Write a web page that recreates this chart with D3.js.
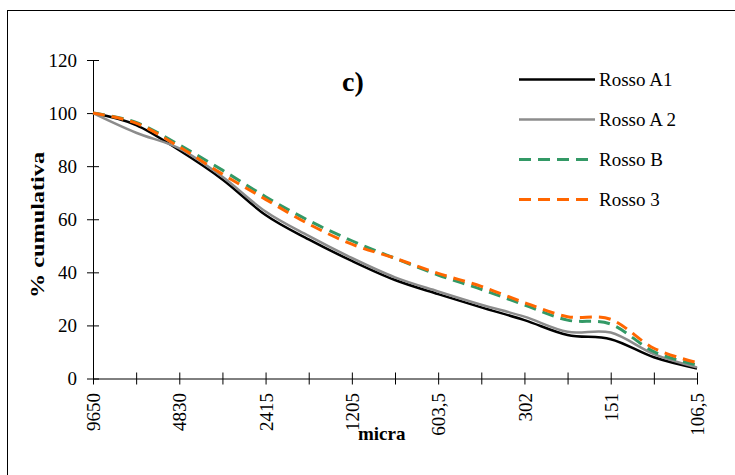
<!DOCTYPE html>
<html>
<head>
<meta charset="utf-8">
<script src="https://cdn.jsdelivr.net/npm/d3@7/dist/d3.min.js"></script>
<style>
  body { margin: 0; background: #fff; }
  svg { display: block; font-family: "Liberation Serif", "Times New Roman", serif; }
</style>
</head>
<body>
<svg id="chart" width="735" height="475"></svg>
<script>
// x categories (only every other one is labelled in the original)
var categories = ["9650", "", "4830", "", "2415", "", "1205", "", "603,5", "", "302", "", "151", "", "106,5"];

var rossoA1 = [100, 95.5, 86, 75, 61.6, 52.4, 44.3, 37.1, 31.8, 26.8, 22, 16.4, 14.8, 8, 3.8];
var rossoA2 = [100, 92.6, 86.7, 76, 62.9, 53.7, 45.4, 38.1, 32.8, 27.8, 23.3, 17.6, 17.3, 9.2, 4.2];
var rossoB  = [100, 96.5, 88, 78.5, 68.5, 59.5, 51.9, 45.3, 39, 33.6, 27.7, 22, 20.5, 10.1, 5.1];
var rosso3  = [100, 96.2, 87.3, 77, 67.5, 58.2, 50.6, 45.3, 39.6, 34.7, 28.6, 23.3, 22.3, 11.4, 6];

var yTicks = [0, 20, 40, 60, 80, 100, 120];

var series = [
  { name: "Rosso A1",  values: rossoA1, color: "#000000", width: 2.5, dash: null },
  { name: "Rosso A 2", values: rossoA2, color: "#8c8c8c", width: 2.5, dash: null },
  { name: "Rosso B",   values: rossoB,  color: "#339966", width: 3, dash: "12,7" },
  { name: "Rosso 3",   values: rosso3,  color: "#ff6600", width: 3, dash: "12,7" }
];

var svg = d3.select("#chart");

// outer frame
svg.append("rect")
  .attr("x", 7.5).attr("y", 10.5)
  .attr("width", 760).attr("height", 500)
  .attr("fill", "none").attr("stroke", "#000").attr("stroke-width", 1);

var xScale = d3.scalePoint().domain(d3.range(categories.length)).range([93, 697]);
var yScale = d3.scaleLinear().domain([0, 120]).range([378.5, 60]);

// y axis
var yAxis = d3.axisLeft(yScale).tickValues(yTicks).tickSizeInner(6).tickSizeOuter(0).tickPadding(10);
var gy = svg.append("g").attr("transform", "translate(93,0)").call(yAxis);
gy.selectAll(".tick line").attr("x2", 6).attr("x1", -6);
gy.selectAll("text").style("font-size", "19px").style("font-family", "Liberation Serif");

// x axis
var xAxis = d3.axisBottom(xScale).tickFormat(function (i) { return categories[i]; })
  .tickSizeInner(6).tickSizeOuter(0);
var gx = svg.append("g").attr("transform", "translate(0,378.5)").call(xAxis);
gx.selectAll(".tick line").attr("y1", -6).attr("y2", 6);
gx.selectAll("text")
  .style("font-size", "19px").style("font-family", "Liberation Serif")
  .attr("text-anchor", "end")
  .attr("transform", "rotate(-90)")
  .attr("x", -14.5).attr("y", 0).attr("dy", "0.35em");
svg.selectAll(".domain").attr("stroke", "#000");

// lines
var line = d3.line()
  .x(function (d, i) { return xScale(i); })
  .y(function (d) { return yScale(d); })
  .curve(d3.curveCardinal.tension(0));

series.forEach(function (s) {
  svg.append("path")
    .attr("d", line(s.values))
    .attr("fill", "none")
    .attr("stroke", s.color)
    .attr("stroke-width", s.width)
    .attr("stroke-dasharray", s.dash);
});

// legend
series.forEach(function (s, i) {
  var y = 79.5 + i * 40;
  svg.append("line")
    .attr("x1", 519).attr("x2", 595).attr("y1", y).attr("y2", y)
    .attr("stroke", s.color).attr("stroke-width", s.width)
    .attr("stroke-dasharray", s.dash);
  svg.append("text")
    .attr("x", 599).attr("y", y + 6.5)
    .style("font-size", "19px")
    .text(s.name);
});

// titles
svg.append("text")
  .attr("x", 342).attr("y", 91)
  .style("font-size", "28px").style("font-weight", "bold")
  .text("c)");

svg.append("text")
  .attr("transform", "translate(44,225) rotate(-90)")
  .attr("text-anchor", "middle")
  .attr("textLength", 146).attr("lengthAdjust", "spacingAndGlyphs")
  .style("font-size", "19px").style("font-weight", "bold")
  .text("% cumulativa");

svg.append("text")
  .attr("x", 358).attr("y", 440)
  .style("font-size", "19px").style("font-weight", "bold")
  .text("micra");
</script>
</body>
</html>
